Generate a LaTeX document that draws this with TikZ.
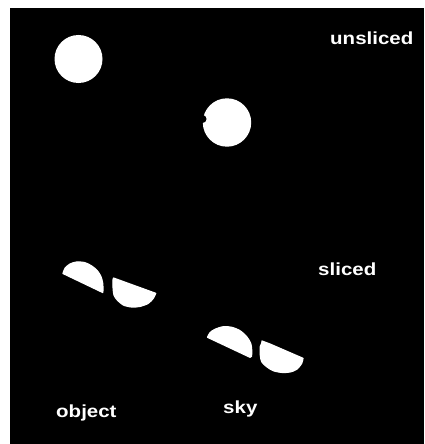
\documentclass[tikz,border=0pt]{standalone}
\usepackage{fontspec}
\setmainfont{Liberation Sans}
\begin{document}
\begin{tikzpicture}[x=1pt,y=-1pt,
  lbl/.style={text=white,font=\bfseries\fontsize{17.5pt}{20pt}\selectfont,inner sep=0pt,anchor=base west,xscale=1.17},
  blob/.style={fill=white,draw=white,line width=1.2pt,line join=round}]
\useasboundingbox (0,0) rectangle (424,444);
\fill[white] (0,0) rectangle (424,444);
\fill[black] (10,8) rectangle (424,444);
% unsliced images
\fill[white] (78.5,59) circle (24pt);
\fill[white] (227,122.5) circle (24.2pt);
\fill[black] (202.5,119) circle (4pt);
% sliced: object
\filldraw[blob] plot[smooth] coordinates {(63,273.5) (65,268.3) (70,264) (76.7,262) (85,262.7) (91.7,266) (97.3,270.7) (101,276.7) (102.7,283.3) (103,290) (102.7,292.5)} -- cycle;
\filldraw[blob] plot[smooth] coordinates {(155.7,293.3) (153.3,298.3) (148.3,303.3) (140,306.4) (131.7,307) (123.3,305) (117.3,300) (114,295) (113,286.7) (113,280) (113.5,278)} -- cycle;
% sliced: sky
\filldraw[blob] plot[smooth] coordinates {(207.5,337.3) (210,332.7) (215,329.3) (223.3,326.7) (231.7,327.3) (240,330.7) (246.7,336.7) (250.7,343.3) (251.7,350) (251.5,356.3) (250,357.3)} -- cycle;
\filldraw[blob] plot[smooth] coordinates {(303,358.3) (301.7,363.3) (296.7,369.3) (290,372) (281.7,372.4) (273.3,370.7) (266.7,366.7) (261.7,361.7) (260.3,355) (260.3,346.7) (261.7,343.3) (262,341)} -- (270,344) -- cycle;
% labels
\node[lbl] (unsl) at (330,45) {unsliced};
\node[lbl] (sl) at (318,275) {sliced};
\node[lbl] (obj) at (56,417) {object};
\node[lbl] (sky) at (223,413) {sky};
\end{tikzpicture}
\end{document}
